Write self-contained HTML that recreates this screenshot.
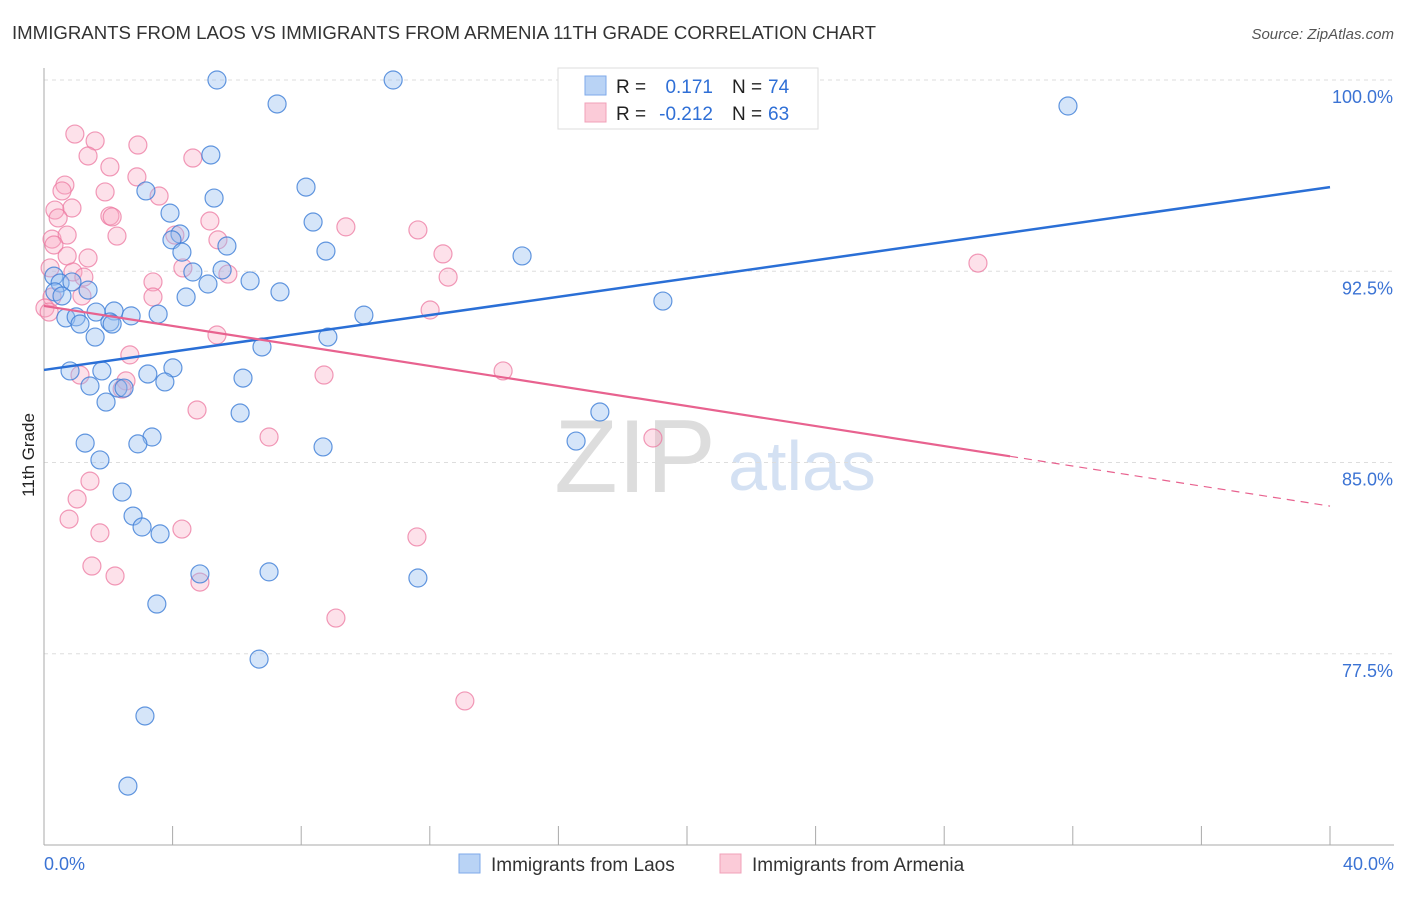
<!DOCTYPE html>
<html><head><meta charset="utf-8"><style>
body{margin:0;background:#fff;font-family:"Liberation Sans",sans-serif;}
svg text{font-family:"Liberation Sans",sans-serif;}
</style></head><body>
<svg id="chart" width="1406" height="892">
<text x="12" y="39" font-size="18" fill="#333" textLength="864" lengthAdjust="spacingAndGlyphs">IMMIGRANTS FROM LAOS VS IMMIGRANTS FROM ARMENIA 11TH GRADE CORRELATION CHART</text>
<text x="1394" y="39" font-size="15" fill="#555" font-style="italic" text-anchor="end">Source: ZipAtlas.com</text>
<text transform="translate(34,455) rotate(-90)" font-size="17" fill="#222" text-anchor="middle">11th Grade</text>
<g><text x="635" y="492" font-size="104" fill="#ddd" text-anchor="middle" font-family="Liberation Serif">ZIP</text><text x="802" y="490" font-size="70" fill="#d4e1f3" text-anchor="middle">atlas</text></g>
<g id="grid"></g><g id="axes"></g><g id="points"></g><g id="lines"></g>
<g>
<rect x="558" y="68" width="260" height="61" fill="#fff" stroke="#ddd"/>
<rect x="585" y="76" width="21" height="19" fill="#b9d3f5" stroke="#7eaaea"/>
<rect x="585" y="103" width="21" height="19" fill="#fbcbd8" stroke="#f0a0b8"/>
<text x="616" y="93" font-size="19" fill="#222">R =</text><text x="713" y="93" font-size="19" fill="#2f6fd6" text-anchor="end">0.171</text>
<text x="732" y="93" font-size="19" fill="#222">N =</text><text x="768" y="93" font-size="19" fill="#2f6fd6">74</text>
<text x="616" y="120" font-size="19" fill="#222">R =</text><text x="713" y="120" font-size="19" fill="#2f6fd6" text-anchor="end">-0.212</text>
<text x="732" y="120" font-size="19" fill="#222">N =</text><text x="768" y="120" font-size="19" fill="#2f6fd6">63</text>
</g>
<g>
<rect x="459" y="854" width="21" height="19" fill="#b9d3f5" stroke="#7eaaea"/>
<text x="491" y="871" font-size="19" fill="#333">Immigrants from Laos</text>
<rect x="720" y="854" width="21" height="19" fill="#fbcbd8" stroke="#f0a0b8"/>
<text x="752" y="871" font-size="19" fill="#333">Immigrants from Armenia</text>
</g>
</svg>
<script>
const laosX=[5.38,10.86,7.25,31.85,5.19,3.17,8.15,5.29,3.92,8.37,4.23,3.98,4.29,8.77,14.87,5.69,4.63,5.54,6.41,5.10,7.34,4.42,0.31,0.50,0.87,0.34,0.56,1.37,19.25,1.62,2.18,2.71,3.55,9.95,0.68,1.00,1.12,2.05,2.12,1.59,8.83,6.78,0.81,1.80,3.23,4.01,3.76,6.19,1.43,2.30,2.49,1.93,6.10,17.29,3.36,2.92,1.28,16.55,8.68,1.74,2.43,2.77,3.05,3.61,4.85,7.00,11.63,3.51,6.69,3.14,2.61];
const laosY=[100.0,100.0,99.06,98.98,97.06,95.65,95.80,95.37,94.78,94.43,93.96,93.73,93.25,93.29,93.10,93.49,92.47,92.55,92.12,92.00,91.69,91.49,92.31,92.04,92.08,91.69,91.53,91.76,91.33,90.90,90.94,90.75,90.82,90.78,90.67,90.71,90.43,90.51,90.43,89.92,89.92,89.53,88.59,88.59,88.47,88.71,88.16,88.31,88.00,87.92,87.92,87.37,86.94,86.98,86.00,85.73,85.76,85.84,85.61,85.10,83.84,82.90,82.47,82.20,80.63,80.71,80.47,79.45,77.29,75.06,72.31];
const armX=[0.96,1.59,2.92,1.37,4.63,2.05,2.89,0.65,0.56,1.90,3.58,0.34,0.87,2.05,2.12,5.16,0.44,9.39,11.63,2.27,0.25,0.72,4.07,5.41,0.31,12.41,1.37,0.72,0.19,0.90,4.32,5.72,1.24,12.57,0.25,1.18,3.39,3.39,0.03,0.16,12.01,5.38,2.67,29.05,8.71,14.28,1.12,2.55,2.43,4.76,7.00,18.94,1.43,1.03,0.78,4.29,1.74,11.60,1.49,2.21,4.85,9.08,13.09];
const armY=[97.88,97.61,97.45,97.02,96.94,96.59,96.20,95.88,95.65,95.61,95.45,94.90,94.98,94.67,94.63,94.47,94.59,94.24,94.12,93.88,93.76,93.92,93.92,93.73,93.53,93.18,93.02,93.10,92.63,92.47,92.63,92.39,92.27,92.27,91.49,91.53,92.08,91.49,91.06,90.90,90.98,90.00,89.22,92.82,88.43,88.59,88.43,88.20,87.88,87.06,86.00,85.96,84.27,83.57,82.78,82.39,82.24,82.08,80.94,80.55,80.31,78.90,75.65];
const yTicks=[100,92.5,85,77.5];
const yTickLabels=["100.0%","92.5%","85.0%","77.5%"];
const xTicks=[0,4,8,12,16,20,24,28,32,36,40];
const laosTrend=[88.63,95.80];
const armTrend=[91.14,83.29];
const armSolidEnd=30.05;

const NS="http://www.w3.org/2000/svg";
const X=v=>44+v*32.15, Y=v=>80+(100-v)*25.5;
function mk(tag,attrs,parent){const e=document.createElementNS(NS,tag);for(const k in attrs)e.setAttribute(k,attrs[k]);parent.appendChild(e);return e;}
const grid=document.getElementById('grid'),axes=document.getElementById('axes'),pts=document.getElementById('points'),lines=document.getElementById('lines');
yTicks.forEach((t,i)=>{
 const l=mk('line',{x1:44,x2:1394,y1:Y(t),y2:Y(t),stroke:'#ddd','stroke-dasharray':'4,4'},grid);
 
 
 const tx=mk('text',{x:1393,y:Y(t)+23,'font-size':18,fill:'#3b73d4','text-anchor':'end'},grid);
 tx.textContent=yTickLabels[i];
 
 
});
const ya=mk('line',{x1:44,x2:44,y1:68,y2:845,stroke:'#aaa'},axes);


const xa=mk('line',{x1:44,x2:1394,y1:845,y2:845,stroke:'#aaa'},axes);


xTicks.forEach(t=>{
 const l=mk('line',{x1:X(t),x2:X(t),y1:826,y2:845,stroke:'#aaa'},axes);
 
 
});
[[0,"0.0%","start",44],[40,"40.0%","end",1394]].forEach(a=>{
 const tx=mk('text',{x:a[3],y:870,'font-size':18,fill:'#3b73d4','text-anchor':a[2]},axes);
 tx.textContent=a[1];
 
 
});
armX.forEach((x,i)=>{
 const c=mk('circle',{cx:X(x),cy:Y(armY[i]),r:9,fill:'rgba(248,170,195,0.35)',stroke:'rgba(236,120,160,0.75)','stroke-width':1.2},pts);
 
 
});
laosX.forEach((x,i)=>{
 const c=mk('circle',{cx:X(x),cy:Y(laosY[i]),r:9,fill:'rgba(150,190,240,0.4)',stroke:'rgba(60,125,215,0.8)','stroke-width':1.2},pts);
 
 
});
const bl=mk('line',{x1:X(0),y1:Y(laosTrend[0]),x2:X(40),y2:Y(laosTrend[1]),stroke:'#2a6fd6','stroke-width':2.5},lines);


const ay=v=>armTrend[0]+(armTrend[1]-armTrend[0])*v/40;
const pl=mk('line',{x1:X(0),y1:Y(armTrend[0]),x2:X(armSolidEnd),y2:Y(ay(armSolidEnd)),stroke:'#e8628f','stroke-width':2.2},lines);


const pd=mk('line',{x1:X(armSolidEnd),y1:Y(ay(armSolidEnd)),x2:X(40),y2:Y(armTrend[1]),stroke:'#e8628f','stroke-width':1.2,'stroke-dasharray':'8,6'},lines);


</script>
</body></html>
